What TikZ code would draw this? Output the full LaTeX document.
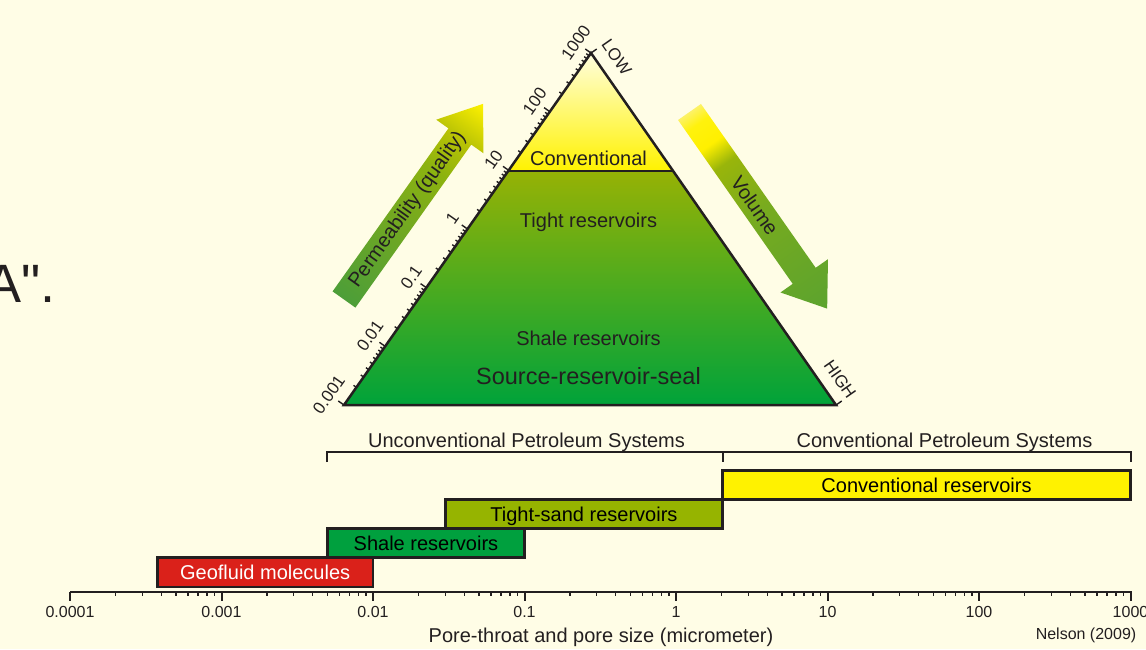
\documentclass[tikz,border=0pt]{standalone}
\usepackage{fontspec}
\setmainfont{Liberation Sans}
\newfontfamily\qfont{Liberation Sans}
\usetikzlibrary{calc}
\definecolor{bg}{RGB}{255,253,230}
\definecolor{dark}{RGB}{35,31,32}
\definecolor{yel}{RGB}{255,242,0}
\definecolor{oliv}{RGB}{150,180,0}
\definecolor{grn}{RGB}{0,160,62}
\definecolor{redc}{RGB}{218,33,26}
\definecolor{apexc}{RGB}{255,254,222}
\definecolor{topmid}{RGB}{255,247,105}
\definecolor{trtop}{RGB}{150,178,5}
\definecolor{trmid}{RGB}{95,170,35}
\definecolor{trbot}{RGB}{0,163,58}
\pgfdeclarehorizontalshading{permshade}{100bp}{rgb(0bp)=(0.30,0.62,0.22); rgb(25bp)=(0.30,0.62,0.22); rgb(45bp)=(0.45,0.66,0.13); rgb(58bp)=(0.55,0.70,0.06); rgb(66bp)=(0.72,0.76,0.02); rgb(75bp)=(1,0.95,0); rgb(100bp)=(1,0.95,0)}
\pgfdeclarehorizontalshading{volshade}{100bp}{rgb(0bp)=(0.99,0.95,0.40); rgb(25bp)=(0.99,0.95,0.40); rgb(28bp)=(1,0.95,0.05); rgb(33bp)=(1,0.94,0); rgb(38bp)=(0.6,0.71,0.04); rgb(50bp)=(0.47,0.67,0.12); rgb(75bp)=(0.36,0.64,0.18); rgb(100bp)=(0.36,0.64,0.18)}
\newcommand\setfs[1]{\fontsize{#1}{#1}\selectfont}
\begin{document}
\begin{tikzpicture}[x=1pt,y=1pt,
  edge/.style={draw=dark, line width=2.5pt, line join=miter},
  tk/.style={draw=dark, line width=1.4pt},
  box/.style={draw=dark, line width=2.5pt, inner sep=0pt, text height=14.3pt, text depth=0pt, font=\setfs{20}},
  lbl/.style={text=dark, inner sep=0pt, font=\setfs{20}},
  axl/.style={text=dark, inner sep=0pt, font=\setfs{17}},
  bxl/.style={text=dark, inner sep=0pt, font=\setfs{16}},
  brk/.style={draw=dark, line width=2pt}]
\useasboundingbox[fill=bg] (0,0) rectangle (1146,-649);

% cut-off slide text
\node[anchor=base west, inner sep=0pt, text=dark, font=\qfont\setfs{54}] (cut) at (-15,-302) {A".};

% pyramid
\coordinate (A) at (591,-53);
\coordinate (B) at (344,-405);
\coordinate (C) at (836,-405);
\coordinate (P) at (508.2,-171);
\coordinate (Q) at (673.1,-171);
\shade[top color=apexc, middle color=topmid, bottom color=yel] (A) -- (Q) -- (P) -- cycle;
\shade[top color=trtop, middle color=trmid, bottom color=trbot] (P) -- (Q) -- (C) -- (B) -- cycle;
\draw[edge] (P) -- (Q);
\draw[edge] (B) -- (A) -- (C) -- cycle;

\node[lbl, anchor=base] (tconv) at (588.5,-165) {Conventional};
\node[lbl, anchor=base] (ttight) at (588.5,-227) {Tight reservoirs};
\node[lbl, anchor=base] (tshale) at (588.5,-345.5) {Shale reservoirs};
\node[lbl, anchor=base, font=\setfs{23.5}] (tsrs) at (588.5,-384) {Source-reservoir-seal};

% permeability scale on left edge
\begin{scope}[shift={(B)}, rotate=54.94]
  \foreach \d in {0,...,5}{\foreach \m in {2,...,9}{
    \draw[tk] ({71.67*(\d+ln(\m)/ln(10))},0) -- ++(0,3.5);}}
  \foreach \d/\v in {0/0.001,1/0.01,2/0.1,3/1,4/10,5/100,6/1000}{
    \draw[tk] ({71.67*\d},0) -- ++(0,7);
    \node[axl, rotate=54.94] (e\d) at ({71.67*\d},18.5) {\v};}
\end{scope}

% volume scale on right edge
\begin{scope}[shift={(A)}, rotate=-55.16]
  \draw[tk] (0,0) -- (0,7);
  \draw[tk] (428.9,0) -- (428.9,7);
  \node[axl, rotate=-55.16] (low) at (18.4,18.5) {LOW};
  \node[axl, rotate=-55.16] (high) at (410,18) {HIGH};
\end{scope}

% big arrows
\begin{scope}[transform canvas={shift={(344,-299.5)}, rotate=54.6}]
  \shade[shading=permshade] (0,-14) -- (200,-14) -- (200,-29) -- (240,0) -- (200,29) -- (200,14) -- (0,14) -- cycle;
\end{scope}
\node[lbl, rotate=54.6] (perm) at (407.7,-209.8) {Permeability (quality)};
\begin{scope}[transform canvas={shift={(689.5,-112)}, rotate=-55}]
  \shade[shading=volshade] (0,-14) -- (200,-14) -- (200,-29) -- (240,0) -- (200,29) -- (200,14) -- (0,14) -- cycle;
\end{scope}
\node[lbl, rotate=-55] (vol) at (754.9,-205.4) {Volume};

% system brackets
\draw[brk] (327.4,-462) -- (327.4,-452) -- (1130.5,-452) -- (1130.5,-462);
\draw[brk] (722.5,-452) -- (722.5,-462);
\node[lbl, anchor=base] (ups) at (526.5,-447.3) {Unconventional Petroleum Systems};
\node[lbl, anchor=base] (cps) at (944.5,-447.3) {Conventional Petroleum Systems};

% range boxes
\node[box, fill=yel, minimum width=408pt, minimum height=29pt] (convbox) at (926.5,-485) {Conventional reservoirs};
\node[box, fill=oliv, minimum width=277.2pt, minimum height=29pt] (tightbox) at (583.9,-514) {Tight-sand reservoirs};
\node[box, fill=grn, minimum width=197.1pt, minimum height=29pt] (shalebox) at (425.95,-543) {Shale reservoirs};
\node[box, fill=redc, text=white, minimum width=215.7pt, minimum height=29.5pt] (geobox) at (265.15,-572.25) {Geofluid molecules};

% pore size axis
\draw[draw=dark, line width=2pt] (70,-591.5) -- (1131.5,-591.5);
\foreach \d in {0,...,6}{\foreach \m in {2,...,9}{
  \draw[tk] ({70+151.5*(\d+ln(\m)/ln(10))},-591.5) -- ++(0,-4.5);}}
\foreach \d/\v in {0/0.0001,1/0.001,2/0.01,3/0.1,4/1,5/10,6/100,7/1000}{
  \draw[draw=dark, line width=2pt] ({70+151.5*\d},-591.5) -- ++(0,-9);
  \node[bxl, anchor=base] (x\d) at ({70+151.5*\d},-617.5) {\v};}
\node[lbl, anchor=base] (xtitle) at (601,-642.5) {Pore-throat and pore size (micrometer)};
\node[bxl, anchor=base] (cite) at (1086,-639.5) {Nelson (2009)};
\end{tikzpicture}
\end{document}
